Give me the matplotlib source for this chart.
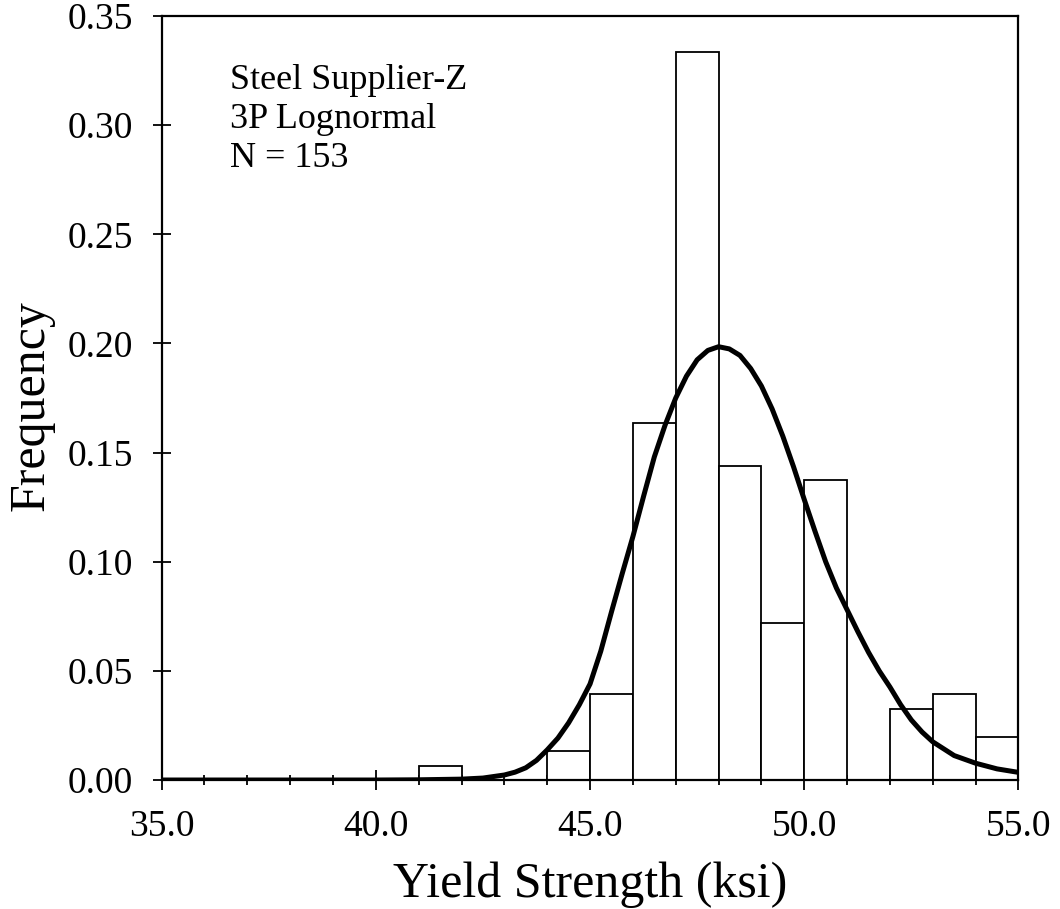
import matplotlib
matplotlib.use("Agg")
import matplotlib.pyplot as plt
import numpy as np
from matplotlib import ticker

plt.rcParams["font.family"] = ["Liberation Serif", "DejaVu Serif"]

# histogram bins (left edges, ksi) and relative frequencies, N = 153
bin_left = [41, 42, 43, 44, 45, 46, 47, 48, 49, 50, 51, 52, 53, 54]
frequency = [0.0065, 0.0, 0.0, 0.0131, 0.0392, 0.1634, 0.3333,
             0.1438, 0.0719, 0.1373, 0.0, 0.0327, 0.0392, 0.0196]

# fitted 3P lognormal curve
curve_x = [35.0, 40.0, 41.0, 42.0, 42.5, 43.0, 43.25, 43.5, 43.75, 44.0,
           44.25, 44.5, 44.75, 45.0, 45.25, 45.5, 45.75, 46.0, 46.25,
           46.5, 46.75, 47.0, 47.25, 47.5, 47.75, 48.0, 48.25, 48.5,
           48.75, 49.0, 49.25, 49.5, 49.75, 50.0, 50.25, 50.5, 50.75,
           51.0, 51.25, 51.5, 51.75, 52.0, 52.25, 52.5, 52.75, 53.0,
           53.5, 54.0, 54.5, 55.0]
curve_y = [0.0, 0.0, 0.0001, 0.0004, 0.0009, 0.0023, 0.0036, 0.0056,
           0.0090, 0.0138, 0.0192, 0.0262, 0.0345, 0.0440, 0.0590,
           0.0770, 0.0945, 0.1115, 0.1300, 0.1480, 0.1625, 0.1750,
           0.1850, 0.1925, 0.1968, 0.1985, 0.1975, 0.1945, 0.1885,
           0.1805, 0.1700, 0.1575, 0.1435, 0.1285, 0.1140, 0.1000,
           0.0880, 0.0780, 0.0680, 0.0585, 0.0500, 0.0426, 0.0345,
           0.0275, 0.0220, 0.0175, 0.0112, 0.0077, 0.0051, 0.0035]

fig = plt.figure(figsize=(10.6, 9.09), dpi=100)
ax = fig.add_axes([0.1525, 0.1419, 0.8083, 0.8405])

ax.bar(bin_left, frequency, width=1.0, align="edge",
       facecolor="white", edgecolor="black", linewidth=1.3, zorder=2)
ax.plot(curve_x, curve_y, color="black", linewidth=3.6,
        solid_capstyle="round", solid_joinstyle="round", zorder=3)

ax.set_xlim(35, 55)
ax.set_ylim(0, 0.35)

ax.xaxis.set_major_locator(ticker.MultipleLocator(5))
ax.xaxis.set_minor_locator(ticker.MultipleLocator(1))
ax.xaxis.set_major_formatter(ticker.FormatStrFormatter("%.1f"))
ax.yaxis.set_major_locator(ticker.MultipleLocator(0.05))
ax.yaxis.set_major_formatter(ticker.FormatStrFormatter("%.2f"))

ax.tick_params(axis="x", which="major", direction="inout", length=15,
               width=1.3, labelsize=27, pad=14)
ax.tick_params(axis="x", which="minor", direction="inout", length=7,
               width=1.3)
ax.tick_params(axis="y", which="major", direction="inout", length=13,
               width=1.3, labelsize=27, pad=14)

for side in ["left", "right", "top", "bottom"]:
    ax.spines[side].set_linewidth(1.6)

ax.set_xlabel("Yield Strength (ksi)", fontsize=36)
ax.xaxis.set_label_coords(0.5, -0.107)
ax.set_ylabel("Frequency", fontsize=36)
ax.yaxis.set_label_coords(-0.125, 0.49)

ax.text(0.080, 0.937, "Steel Supplier-Z\n3P Lognormal\nN = 153",
        transform=ax.transAxes, fontsize=26, va="top", ha="left",
        linespacing=1.23)

fig.savefig("out.png", dpi=100)
